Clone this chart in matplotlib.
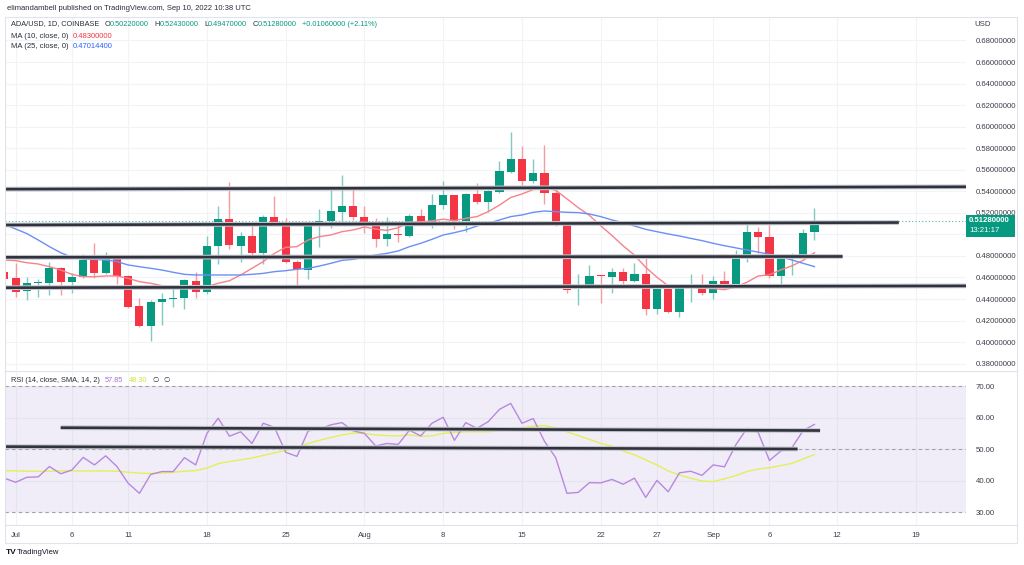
import numpy as np
import pandas as pd
import matplotlib
matplotlib.use('Agg')
import matplotlib.pyplot as plt
from matplotlib.patches import Rectangle
from matplotlib.lines import Line2D

plt.rcParams['font.family'] = ['Liberation Sans', 'DejaVu Sans']

# daily candles ADA/USD, Jun 30 - Sep 10 2022
dates = pd.date_range('2022-06-30', '2022-09-10', freq='D')

opens = [0.4654,
         0.4592, 0.4474, 0.4545, 0.4545, 0.4685, 0.4558, 0.4607, 0.4762, 0.4645, 0.4771,
         0.4614, 0.4335, 0.4149, 0.4369, 0.4400, 0.4406, 0.4567, 0.4465, 0.4892, 0.5143,
         0.4895, 0.4985, 0.4824, 0.5164, 0.5112, 0.4740, 0.4669, 0.5109, 0.5127, 0.5211, 0.5263,
         0.5158, 0.5118, 0.4957, 0.5000, 0.4988, 0.5171, 0.5096, 0.5273, 0.5366, 0.5124,
         0.5375, 0.5298, 0.5397, 0.5582, 0.5697, 0.5499, 0.5567, 0.5387, 0.5118, 0.4490,
         0.4505, 0.4623, 0.4607, 0.4654, 0.4567, 0.4632, 0.4304, 0.4493, 0.4276, 0.4499, 0.4521,
         0.4453, 0.4567, 0.4536, 0.4793, 0.5025, 0.4979, 0.4617, 0.4784, 0.4784, 0.5022]
highs = [0.4669,
         0.4731, 0.4607, 0.4583, 0.4747, 0.4700, 0.4638, 0.4815, 0.4923, 0.4839, 0.4787,
         0.4623, 0.4406, 0.4391, 0.4453, 0.4530, 0.4583, 0.4648, 0.4985, 0.5263, 0.5483,
         0.5019, 0.5109, 0.5180, 0.5356, 0.5149, 0.4762, 0.5118, 0.5233, 0.5452, 0.5551, 0.5443,
         0.5263, 0.5149, 0.5164, 0.5096, 0.5189, 0.5233, 0.5375, 0.5496, 0.5366, 0.5387,
         0.5480, 0.5412, 0.5684, 0.5947, 0.5824, 0.5697, 0.5830, 0.5428, 0.5118, 0.4629,
         0.4716, 0.4623, 0.4691, 0.4685, 0.4737, 0.4809, 0.4499, 0.4536, 0.4499, 0.4629, 0.4629,
         0.4617, 0.4660, 0.4855, 0.5096, 0.5072, 0.5109, 0.4809, 0.4830, 0.5047, 0.5243]
lows = [0.4561,
        0.4422, 0.4391, 0.4422, 0.4437, 0.4437, 0.4459, 0.4592, 0.4592, 0.4632, 0.4539,
        0.4313, 0.4143, 0.4013, 0.4159, 0.4323, 0.4307, 0.4412, 0.4450, 0.4725, 0.4861,
        0.4747, 0.4768, 0.4725, 0.5096, 0.4731, 0.4499, 0.4583, 0.4880, 0.5062, 0.5096, 0.5134,
        0.5010, 0.4886, 0.4892, 0.4932, 0.4979, 0.5096, 0.5056, 0.5233, 0.5047, 0.5019,
        0.5282, 0.5211, 0.5381, 0.5567, 0.5428, 0.5474, 0.5282, 0.5078, 0.4459, 0.4344,
        0.4499, 0.4366, 0.4453, 0.4539, 0.4561, 0.4251, 0.4258, 0.4267, 0.4236, 0.4375, 0.4437,
        0.4400, 0.4490, 0.4530, 0.4747, 0.4824, 0.4592, 0.4530, 0.4623, 0.4778, 0.4947]
closes = [0.4586,
          0.4465, 0.4545, 0.4551, 0.4685, 0.4558, 0.4607, 0.4762, 0.4645, 0.4771, 0.4614,
          0.4329, 0.4149, 0.4375, 0.4400, 0.4406, 0.4573, 0.4465, 0.4892, 0.5143, 0.4901,
          0.4985, 0.4824, 0.5164, 0.5118, 0.4740, 0.4679, 0.5109, 0.5127, 0.5217, 0.5263, 0.5158,
          0.5118, 0.4957, 0.5004, 0.4991, 0.5171, 0.5109, 0.5273, 0.5366, 0.5124, 0.5375,
          0.5298, 0.5403, 0.5592, 0.5697, 0.5499, 0.5573, 0.5381, 0.5112, 0.4484, 0.4505,
          0.4617, 0.4610, 0.4654, 0.4567, 0.4632, 0.4304, 0.4493, 0.4276, 0.4499, 0.4515, 0.4453,
          0.4567, 0.4536, 0.4793, 0.5025, 0.4979, 0.4617, 0.4784, 0.4793, 0.5016, 0.5128]

# moving averages as shown on the chart
ma10 = [0.4762,
        0.4756, 0.4737, 0.4725, 0.4700, 0.4669, 0.4629, 0.4607, 0.4607, 0.4614, 0.4614,
        0.4592, 0.4561, 0.4546, 0.4524, 0.4515, 0.4511, 0.4515, 0.4515, 0.4546, 0.4570,
        0.4623, 0.4685, 0.4747, 0.4824, 0.4880, 0.4886, 0.4948, 0.4979, 0.4994, 0.5025, 0.5041,
        0.5069, 0.5049, 0.5037, 0.5062, 0.5112, 0.5114, 0.5126, 0.5141, 0.5127, 0.5149,
        0.5165, 0.5211, 0.5272, 0.5342, 0.5375, 0.5416, 0.5432, 0.5410, 0.5330, 0.5248,
        0.5176, 0.5080, 0.4990, 0.4893, 0.4808, 0.4694, 0.4602, 0.4522, 0.4518, 0.4516, 0.4499,
        0.4497, 0.4487, 0.4511, 0.4556, 0.4614, 0.4625, 0.4670, 0.4708, 0.4759, 0.4830]
ma25 = [0.5093,
        0.5050, 0.5007, 0.4948, 0.4886, 0.4830, 0.4787, 0.4771, 0.4768, 0.4762, 0.4747,
        0.4716, 0.4700, 0.4685, 0.4669, 0.4648, 0.4629, 0.4623, 0.4623, 0.4623, 0.4623,
        0.4623, 0.4629, 0.4638, 0.4654, 0.4663, 0.4676, 0.4685, 0.4706, 0.4731, 0.4759, 0.4768,
        0.4787, 0.4809, 0.4824, 0.4846, 0.4886, 0.4917, 0.4954, 0.4994, 0.5016, 0.5041,
        0.5078, 0.5103, 0.5134, 0.5165, 0.5180, 0.5205, 0.5217, 0.5211, 0.5205, 0.5202,
        0.5189, 0.5165, 0.5134, 0.5109, 0.5078, 0.5047, 0.5025, 0.5004, 0.4985, 0.4963, 0.4942,
        0.4917, 0.4895, 0.4875, 0.4855, 0.4835, 0.4815, 0.4790, 0.4762, 0.4731, 0.4701]

# RSI(14) and its SMA(14)
rsi = [40.8,
       39.5, 41.1, 41.2, 44.5, 42.2, 43.4, 47.4, 45.0, 47.9, 44.5,
       39.2, 36.0, 42.0, 42.9, 42.9, 47.3, 45.0, 55.0, 59.8, 54.1,
       55.5, 51.8, 58.2, 56.9, 49.0, 47.7, 55.8, 56.3, 57.7, 58.4, 55.8,
       55.0, 51.0, 51.8, 51.5, 56.0, 54.2, 58.2, 60.1, 52.8, 58.4,
       56.6, 58.7, 62.6, 64.5, 58.2, 59.7, 52.5, 47.3, 36.0, 36.3,
       39.4, 39.3, 40.4, 38.9, 40.8, 34.7, 40.1, 36.5, 42.5, 43.0, 41.7,
       45.0, 44.4, 51.3, 56.6, 55.3, 46.4, 49.4, 50.5, 55.9, 57.85]
rsi_sma = [43.2,
           43.1, 43.0, 43.0, 43.0, 43.1, 43.1, 43.1, 43.1, 43.1, 43.0,
           42.7, 42.4, 42.3, 42.4, 42.7, 43.0, 43.2, 44.0, 45.4, 46.1,
           46.6, 47.2, 48.0, 48.8, 49.6, 50.5, 51.8, 52.8, 53.7, 54.5, 55.1,
           55.0, 54.5, 54.3, 54.2, 54.5, 54.1, 54.2, 55.0, 55.3, 55.5,
           55.5, 55.5, 55.9, 56.4, 56.8, 57.3, 57.5, 56.8, 55.5, 54.3,
           53.1, 51.8, 51.0, 49.4, 48.2, 46.6, 45.0, 43.1, 41.8, 40.8, 39.9,
           39.7, 40.6, 41.6, 42.9, 43.7, 44.1, 44.8, 45.5, 46.9, 48.3]

# user drawn levels: (value at left edge, value at right end, last date)
price_lines_left = [0.5420, 0.5087, 0.4787, 0.4505]
price_lines_right = [0.5442, 0.5110, 0.4795, 0.4522]
price_lines_end = ['2022-09-24', '2022-09-17', '2022-09-12', '2022-09-24']
rsi_lines_start = ['2022-07-05', None]
rsi_lines_end = ['2022-09-10', '2022-09-08']
rsi_lines_left = [56.8, 50.8]
rsi_lines_right = [55.9, 50.05]

tick_dates = ['2022-07-01', '2022-07-06', '2022-07-11', '2022-07-18', '2022-07-25',
              '2022-08-01', '2022-08-08', '2022-08-15', '2022-08-22', '2022-08-27',
              '2022-09-01', '2022-09-06', '2022-09-12', '2022-09-19']
tick_labels = ['Jul', '6', '11', '18', '25', 'Aug', '8', '15', '22', '27', 'Sep', '6', '12', '19']

W, H = 1024, 565
UP, DOWN = '#089981', '#f23645'
TXT = '#2a2e39'
GRID = '#f2f3f6'


def fx(px):
    return px / W


def fy(py):
    return 1 - py / H


day0 = pd.Timestamp('2022-07-01')


def dnum(s):
    return (pd.Timestamp(s) - day0).days


x = np.array([(d - day0).days for d in dates])
xlim = (-0.95, 84.47)

fig = plt.figure(figsize=(10.24, 5.65), dpi=100)
fig.patch.set_facecolor('white')

ax = fig.add_axes([fx(5), fy(370), fx(966) - fx(5), fy(17) - fy(370)])
rax = fig.add_axes([fx(5), fy(525), fx(966) - fx(5), fy(372) - fy(525)], sharex=ax)

for a in (ax, rax):
    for s in a.spines.values():
        s.set_visible(False)
    a.set_facecolor('white')
    a.yaxis.tick_right()
    a.tick_params(axis='y', length=0, pad=7, labelsize=5.6, labelcolor='#3b3f4a')
    a.tick_params(axis='x', length=0)
    a.set_xticks([dnum(t) for t in tick_dates])
    a.grid(True, color=GRID, lw=0.8, zorder=0)
    a.set_axisbelow(True)

ax.set_xlim(*xlim)
ax.set_ylim(0.3741, 0.7018)
yt = np.arange(0.38, 0.6801, 0.02)
ax.set_yticks(yt)
# the 0.50 label sits under the last-price marker
ax.set_yticklabels(['' if abs(v - 0.50) < 1e-6 else '%.8f' % v for v in yt])
ax.tick_params(labelbottom=False)

# candles
o, h, l, c = map(np.array, (opens, highs, lows, closes))
up = c >= o
body_col = np.where(up, UP, DOWN)
wick_col = np.where(up, '#7fcbbd', '#f79aa2')
ax.vlines(x, l, h, colors=wick_col, lw=1.0, zorder=3)
ax.bar(x, np.maximum(np.abs(c - o), 0.0014), bottom=np.minimum(o, c), width=0.72,
       color=body_col, lw=0, zorder=4)

ax.plot(x, ma10, color='#f7828c', lw=1.0, zorder=5)
ax.plot(x, ma25, color='#6b8ff5', lw=1.0, zorder=5)

# last price dotted line
ax.axhline(closes[-1], color=UP, lw=0.8, ls=(0, (1, 2)), alpha=0.7, zorder=2)

for y0, y1, end in zip(price_lines_left, price_lines_right, price_lines_end):
    xs = [xlim[0], dnum(end) + 0.5]
    ax.plot(xs, [y0, y1], color='#c4c6cd', lw=3.4, zorder=6, solid_capstyle='butt')
    ax.plot(xs, [y0, y1], color='#30333d', lw=1.9, zorder=7, solid_capstyle='butt')

# RSI pane
rax.set_ylim(25.97, 74.44)
rax.set_yticks([30, 40, 50, 60, 70])
rax.set_yticklabels(['30.00', '40.00', '50.00', '60.00', '70.00'])
rax.set_xticklabels(tick_labels)
rax.tick_params(axis='x', labelsize=5.6, labelcolor='#3b3f4a', pad=5)
rax.axhspan(30, 70, color='#7e57c2', alpha=0.1, lw=0, zorder=1)
for lv in (30, 50, 70):
    rax.axhline(lv, color='#9ea1aa', lw=0.8, ls=(0, (3, 3)), zorder=2)
rax.plot(x, rsi_sma, color='#e3f056', lw=1.0, zorder=4)
rax.plot(x, rsi, color='#b888dd', lw=1.0, zorder=5)
for st, en, y0, y1 in zip(rsi_lines_start, rsi_lines_end, rsi_lines_left, rsi_lines_right):
    xs = [dnum(st) if st else xlim[0], dnum(en) + 0.5]
    rax.plot(xs, [y0, y1], color='#c4c6cd', lw=3.4, zorder=6, solid_capstyle='butt')
    rax.plot(xs, [y0, y1], color='#30333d', lw=1.9, zorder=7, solid_capstyle='butt')

# frame and separators
fig.add_artist(Rectangle((fx(5), fy(543)), fx(1017) - fx(5), fy(17) - fy(543),
                         transform=fig.transFigure, fill=False, ec='#e0e3eb', lw=0.8))
for yy in (371, 525):
    fig.add_artist(Line2D([fx(5), fx(1017)], [fy(yy), fy(yy)], transform=fig.transFigure,
                          color='#e0e3eb', lw=0.8))

# last price label
fig.add_artist(Rectangle((fx(966), fy(237)), fx(1015) - fx(966), fy(215) - fy(237),
                         transform=fig.transFigure, color=UP, lw=0, zorder=5))
fig.text(fx(969), fy(221), '%.8f' % closes[-1], color='white', fontsize=5.6,
         fontweight='bold', va='center', zorder=6)
fig.text(fx(969), fy(231), '13:21:17', color='white', fontsize=5.6, va='center', zorder=6)
fig.text(fx(974), fy(25), 'USD', color='#3b3f4a', fontsize=5.6, va='center')

# header texts
renderer = fig.canvas.get_renderer()


def parts(xp, yp, items, size=5.5):
    # consecutive coloured pieces on one line, returns end x in pixels
    for s, col in items:
        if s.startswith(' '):
            xp += 2.6 * len(s)
            continue
        t = fig.text(fx(xp), fy(yp), s, color=col, fontsize=size, va='center', ha='left')
        xp += t.get_window_extent(renderer=renderer).width
    return xp


fig.text(fx(7), fy(9), 'elimandambell published on TradingView.com, Sep 10, 2022 10:38 UTC',
         color=TXT, fontsize=5.5, va='center')
parts(11, 24, [('ADA/USD, 1D, COINBASE', TXT), ('  ', None),
               ('O', TXT), ('%.8f' % opens[-1], UP), ('  ', None),
               ('H', TXT), ('%.8f' % highs[-1], UP), ('  ', None),
               ('L', TXT), ('%.8f' % lows[-1], UP), ('  ', None),
               ('C', TXT), ('%.8f' % closes[-1], UP), ('  ', None),
               ('+0.01060000 (+2.11%)', UP)], size=5.3)
fig.text(fx(11), fy(36), 'MA (10, close, 0)', color=TXT, fontsize=5.5, va='center')
fig.text(fx(73), fy(36), '0.48300000', color=DOWN, fontsize=5.5, va='center')
fig.text(fx(11), fy(47), 'MA (25, close, 0)', color=TXT, fontsize=5.5, va='center')
fig.text(fx(73), fy(47), '0.47014400', color='#2962ff', fontsize=5.5, va='center')

parts(11, 380, [('RSI (14, close, SMA, 14, 2)', TXT), ('  ', None),
                ('%.2f' % rsi[-1], '#ab6fd6'), ('  ', None),
                ('%.2f' % rsi_sma[-1], '#d4e33a'), ('  ', None),
                ('\u2205', TXT), ('  ', None), ('\u2205', TXT)], size=5.3)

# footer
fig.text(fx(6), fy(553), 'TV', color='#131722', fontsize=6, fontweight='bold', va='center')
fig.text(fx(17), fy(553), 'TradingView', color='#131722', fontsize=5.5, va='center')

fig.savefig('out.png', dpi=100)
